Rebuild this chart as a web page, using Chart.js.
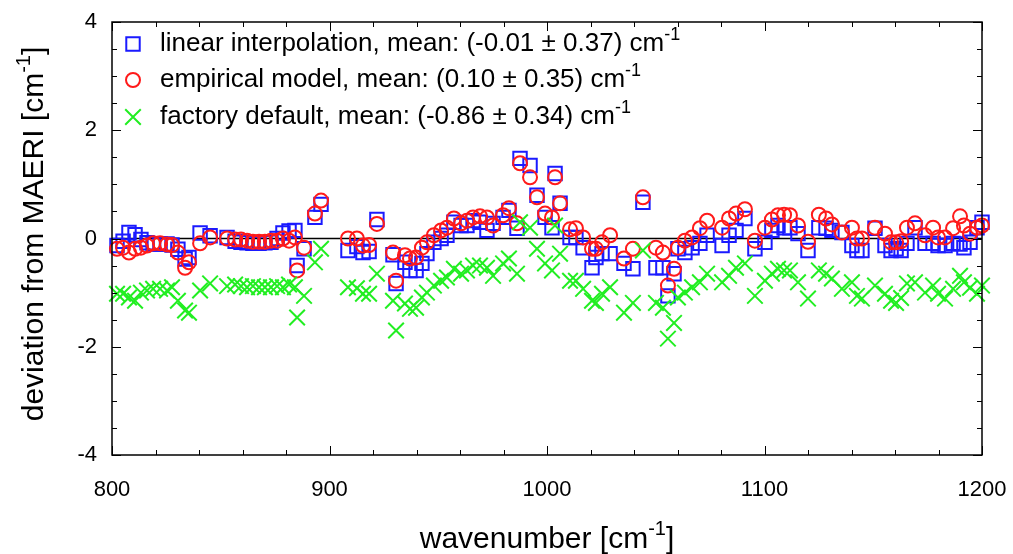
<!DOCTYPE html>
<html>
<head>
<meta charset="utf-8">
<script src="https://cdn.jsdelivr.net/npm/chart.js@4.4.1/dist/chart.umd.min.js"></script>
<style>
  html, body { margin: 0; padding: 0; background: #fff; }
  #wrap { width: 1013px; height: 554px; }
</style>
</head>
<body>
<div id="wrap"><canvas id="chart"></canvas></div>
<script>
// wavenumbers [cm-1] of the points (shared by the three series)
const wavenumbers = [802.3,805.1,807.8,810.6,813.3,816.1,818.9,822.1,825.3,827.6,830.3,833.6,835.4,
  840.5,845.1,852.9,856.6,859.3,862.1,864.8,867.6,870.3,873.1,875.9,878.6,881.4,
  884.1,885.1,888.3,893.3,896.1,
  908.5,912.6,915.4,918.2,921.8,929.2,930.6,934.7,937.0,939.8,942.5,944.8,
  948.0,951.3,954.0,957.2,960.5,963.2,966.0,969.2,972.4,975.2,979.8,982.5,986.2,
  987.6,992.2,995.4,999.1,1002.3,1003.7,1006.0,1010.6,1013.3,1016.6,
  1020.7,1022.5,1025.3,1029.0,1035.4,1039.5,1044.1,1050.1,1053.3,1055.6,1058.4,
  1060.2,1063.4,1066.7,1070.3,1073.6,1080.5,1083.7,1086.9,1091.0,1095.6,1100.2,
  1103.4,1106.2,1109.0,1111.7,1115.4,1120.0,1125.0,1128.3,1131.0,1135.6,
  1140.2,1142.5,1144.8,1150.8,1155.4,1158.2,1160.5,1162.8,1165.5,1169.2,
  1173.8,1177.5,1179.8,1183.0,1186.7,1189.9,1191.7,1194.5,1197.7,1200.0];

const linearInterp = [-0.13,-0.05,0.11,0.07,-0.02,-0.08,-0.10,-0.10,-0.10,-0.12,-0.20,-0.38,-0.35,
  0.10,0.05,0.02,-0.05,-0.07,-0.08,-0.09,-0.09,-0.08,-0.07,0.00,0.10,0.14,
  0.15,-0.50,-0.19,0.39,0.63,
  -0.22,-0.15,-0.26,-0.24,0.35,-0.30,-0.83,-0.44,-0.59,-0.59,-0.46,-0.28,
  -0.07,0.00,0.06,0.30,0.24,0.24,0.33,0.30,0.15,0.28,0.39,0.52,0.19,
  1.48,1.35,0.80,0.39,0.20,1.20,0.65,0.02,0.02,-0.17,
  -0.54,-0.35,-0.28,-0.28,-0.46,-0.56,0.67,-0.54,-0.54,-1.06,-0.65,
  -0.19,-0.26,-0.17,-0.09,0.06,-0.13,0.06,0.15,0.37,-0.19,-0.07,
  0.15,0.24,0.20,0.20,0.09,-0.22,0.20,0.19,0.15,0.11,
  -0.13,-0.22,-0.22,0.19,-0.13,-0.22,-0.19,-0.22,-0.09,0.20,
  -0.09,-0.09,-0.13,-0.13,-0.09,-0.10,-0.17,-0.07,0.20,0.30];

const empiricalModel = [-0.19,-0.17,-0.26,-0.19,-0.17,-0.13,-0.09,-0.09,-0.11,-0.12,-0.26,-0.54,-0.44,
  -0.09,0.02,0.00,-0.02,-0.02,-0.04,-0.06,-0.06,-0.06,-0.04,-0.04,0.00,-0.04,
  0.02,-0.59,-0.17,0.46,0.70,
  0.00,0.00,-0.13,-0.12,0.27,-0.26,-0.78,-0.31,-0.37,-0.35,-0.17,-0.07,
  0.06,0.15,0.20,0.37,0.28,0.33,0.39,0.41,0.39,0.24,0.43,0.56,0.28,
  1.39,1.13,0.76,0.46,0.39,1.13,0.65,0.17,0.19,0.02,
  -0.19,-0.19,-0.07,0.06,-0.37,-0.19,0.76,-0.17,-0.26,-0.87,-0.56,
  -0.17,-0.04,0.02,0.19,0.33,0.20,0.37,0.46,0.54,-0.04,0.20,
  0.35,0.43,0.44,0.43,0.24,-0.06,0.44,0.37,0.26,0.11,
  0.20,0.00,0.00,0.20,0.09,-0.07,-0.07,-0.05,0.20,0.28,
  0.06,0.20,0.02,0.02,0.19,0.41,0.24,0.09,0.20,0.24];

const factoryDefault = [-1.02,-1.02,-1.09,-1.15,-1.00,-0.96,-0.93,-0.93,-0.96,-0.90,-1.15,-1.33,-1.37,
  -0.96,-0.83,-0.88,-0.85,-0.88,-0.90,-0.88,-0.90,-0.90,-0.90,-0.88,-0.90,-0.85,
  -0.90,-1.46,-1.06,-0.44,-0.19,
  -0.90,-0.92,-1.02,-1.02,-0.65,-1.15,-1.70,-1.20,-1.30,-1.28,-1.09,-1.00,
  -0.87,-0.78,-0.72,-0.56,-0.65,-0.59,-0.50,-0.50,-0.54,-0.69,-0.46,-0.37,-0.65,
  0.30,0.20,-0.19,-0.46,-0.59,0.24,-0.28,-0.78,-0.78,-0.93,
  -1.15,-1.19,-1.02,-0.90,-1.37,-1.19,-0.22,-1.19,-1.28,-1.85,-1.56,
  -1.09,-1.00,-0.90,-0.81,-0.65,-0.81,-0.69,-0.54,-0.46,-1.06,-0.78,
  -0.65,-0.56,-0.59,-0.59,-0.81,-1.11,-0.59,-0.65,-0.74,-0.93,
  -0.81,-1.06,-1.11,-0.87,-1.02,-1.15,-1.19,-1.10,-0.83,-0.81,
  -1.00,-0.87,-1.02,-1.11,-0.93,-0.69,-0.81,-0.91,-1.02,-0.87];

const xTicks = [800, 900, 1000, 1100, 1200];
const yTicks = [-4, -2, 0, 2, 4];

const seriesNames = [
  'linear interpolation, mean: (-0.01 \u00b1 0.37) cm',
  'empirical model, mean: (0.10 \u00b1 0.35) cm',
  'factory default, mean: (-0.86 \u00b1 0.34) cm'
];

const FONT = '"Liberation Sans", Arial, sans-serif';

function pts(vals) {
  return wavenumbers.map((w, i) => ({ x: w, y: vals[i] }));
}

// text with a "-1" superscript after the main part
function supText(ctx, main, sup, x, y, size, align) {
  ctx.font = size + 'px ' + FONT;
  const w1 = ctx.measureText(main).width;
  const ss = Math.round(size * 0.68);
  ctx.font = ss + 'px ' + FONT;
  const w2 = ctx.measureText(sup).width;
  ctx.font = size + 'px ' + FONT;
  const tail = align.tail || '';
  const w3 = tail ? ctx.measureText(tail).width : 0;
  const total = w1 + w2 + w3;
  const x0 = align.h === 'center' ? x - total / 2 : x;
  ctx.textAlign = 'left';
  ctx.textBaseline = 'middle';
  ctx.fillText(main, x0, y);
  ctx.font = ss + 'px ' + FONT;
  ctx.fillText(sup, x0 + w1, y - size * 0.36);
  if (tail) {
    ctx.font = size + 'px ' + FONT;
    ctx.fillText(tail, x0 + w1 + w2, y);
  }
}

const frame = {
  id: 'frame',
  beforeDatasetsDraw(chart) {
    const ctx = chart.ctx, a = chart.chartArea, ys = chart.scales.y;
    ctx.save();
    ctx.strokeStyle = '#000';
    ctx.lineWidth = 1.5;
    const y0 = ys.getPixelForValue(0);
    ctx.beginPath();
    ctx.moveTo(a.left, y0);
    ctx.lineTo(a.right, y0);
    ctx.stroke();
    ctx.restore();
  },
  afterDraw(chart) {
    const ctx = chart.ctx, a = chart.chartArea;
    const xs = chart.scales.x, ys = chart.scales.y;
    ctx.save();
    ctx.strokeStyle = '#000';
    ctx.fillStyle = '#000';
    ctx.lineWidth = 1;
    ctx.beginPath();
    for (let v = 800; v <= 1200; v += 20) {
      const px = Math.round(xs.getPixelForValue(v)) + 0.5;
      const len = v % 100 === 0 ? 9 : 5;
      ctx.moveTo(px, a.bottom); ctx.lineTo(px, a.bottom - len);
      ctx.moveTo(px, a.top); ctx.lineTo(px, a.top + len);
    }
    for (let v = -4; v <= 4; v += 0.5) {
      const py = Math.round(ys.getPixelForValue(v)) + 0.5;
      const len = v % 2 === 0 ? 9 : 5;
      ctx.moveTo(a.left, py); ctx.lineTo(a.left + len, py);
      ctx.moveTo(a.right, py); ctx.lineTo(a.right - len, py);
    }
    ctx.stroke();
    ctx.lineWidth = 1.5;
    ctx.strokeRect(a.left, a.top, a.right - a.left, a.bottom - a.top);

    // tick labels
    ctx.font = '22px ' + FONT;
    ctx.textAlign = 'center';
    ctx.textBaseline = 'middle';
    xTicks.forEach(v => ctx.fillText(String(v), xs.getPixelForValue(v), a.bottom + 35));
    ctx.textAlign = 'right';
    yTicks.forEach(v => ctx.fillText(String(v), a.left - 15, ys.getPixelForValue(v)));

    // axis titles
    supText(ctx, 'wavenumber [cm', '-1', (a.left + a.right) / 2, 540, 30, { h: 'center', tail: ']' });
    ctx.save();
    ctx.translate(35, 234);
    ctx.rotate(-Math.PI / 2);
    supText(ctx, 'deviation from MAERI [cm', '-1', 0, 0, 30, { h: 'center', tail: ']' });
    ctx.restore();

    // key
    const ds = chart.data.datasets;
    const rows = [44, 80, 117];
    ds.forEach((d, i) => {
      ctx.save();
      ctx.strokeStyle = d.borderColor;
      ctx.fillStyle = 'rgba(0,0,0,0)';
      ctx.lineWidth = d.borderWidth;
      Chart.helpers.drawPoint(ctx, { pointStyle: d.pointStyle, radius: d.pointRadius, borderWidth: d.borderWidth, rotation: 0 }, 133, rows[i]);
      ctx.restore();
      ctx.fillStyle = '#000';
      supText(ctx, seriesNames[i], '-1', 160, rows[i], 26, { h: 'left' });
    });
    ctx.restore();
  }
};

new Chart(document.getElementById('chart'), {
  type: 'scatter',
  data: {
    datasets: [{
      label: seriesNames[0],
      data: pts(linearInterp),
      pointStyle: 'rect',
      pointRadius: 9.5,
      borderColor: '#1a1aff',
      backgroundColor: 'transparent',
      borderWidth: 2,
      order: 3,
      clip: false
    }, {
      label: seriesNames[1],
      data: pts(empiricalModel),
      pointStyle: 'circle',
      pointRadius: 7,
      borderColor: '#ff1a1a',
      backgroundColor: 'transparent',
      borderWidth: 2,
      order: 2,
      clip: false
    }, {
      label: seriesNames[2],
      data: pts(factoryDefault),
      pointStyle: 'crossRot',
      pointRadius: 11,
      borderColor: '#22ee22',
      backgroundColor: 'transparent',
      borderWidth: 2,
      order: 1,
      clip: false
    }]
  },
  options: {
    responsive: true,
    maintainAspectRatio: false,
    animation: false,
    layout: { padding: { left: 112, right: 31, top: 22, bottom: 99 } },
    scales: {
      x: { type: 'linear', display: false, min: 800, max: 1200 },
      y: { type: 'linear', display: false, min: -4, max: 4 }
    },
    plugins: {
      legend: { display: false },
      tooltip: { enabled: false }
    }
  },
  plugins: [frame]
});
</script>
</body>
</html>
